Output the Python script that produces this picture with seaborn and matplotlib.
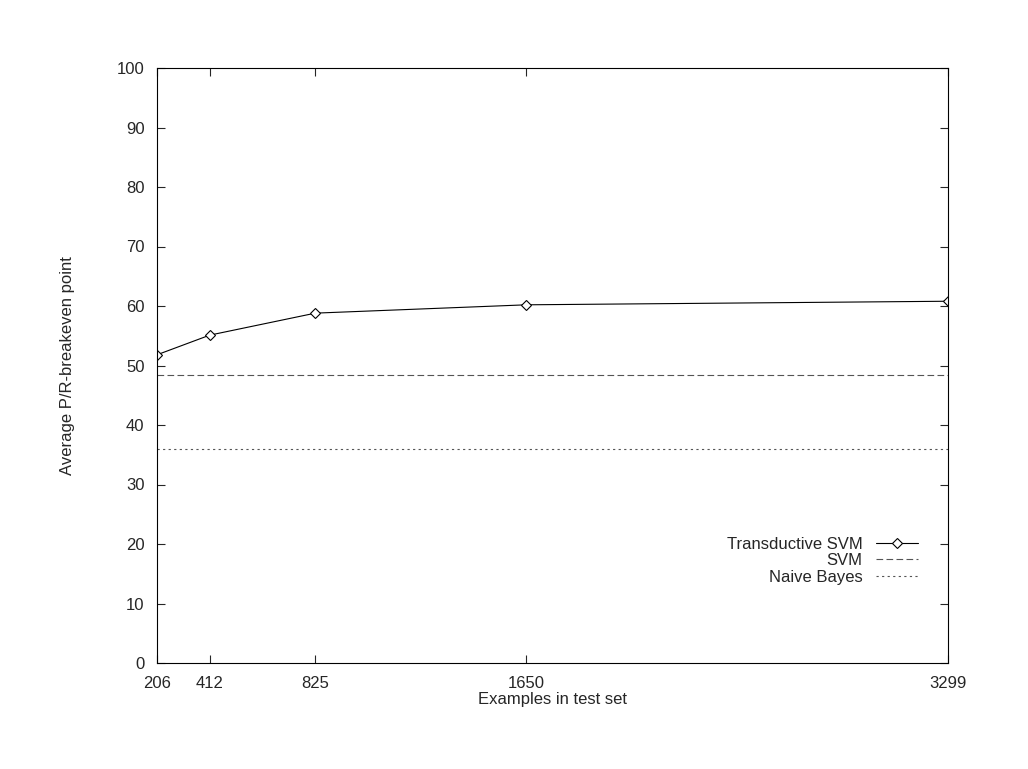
import matplotlib
matplotlib.use("Agg")
import matplotlib.pyplot as plt
import seaborn as sns
import pandas as pd

# values
examples = [206, 412, 825, 1650, 3299]
tsvm = [51.8, 55.1, 58.8, 60.2, 60.8]
svm_level = 48.4
nb_level = 35.9

sns.set_style("ticks")
plt.rcParams["font.family"] = ["Liberation Sans", "DejaVu Sans"]

fig = plt.figure(figsize=(10.28, 7.69), dpi=100)
ax = fig.add_axes([157 / 1028, 1 - 663 / 769, (948 - 157) / 1028, (663 - 68) / 769])

df = pd.DataFrame({"examples": examples, "tsvm": tsvm})
sns.lineplot(data=df, x="examples", y="tsvm", ax=ax, color="black", lw=0.8,
             marker="D", markersize=5, markerfacecolor="white",
             markeredgecolor="black", markeredgewidth=0.8,
             label="Transductive SVM")
ax.axhline(svm_level, color="#555555", lw=0.8, ls=(0, (6, 3)), label="SVM")
ax.axhline(nb_level, color="#555555", lw=0.8, ls=(0, (2, 3)), label="Naive Bayes")

ax.set_xlim(examples[0], examples[-1])
ax.set_ylim(0, 100)
ax.set_xticks(examples)
ax.set_yticks(range(0, 101, 10))
ax.tick_params(direction="in", top=True, right=True, length=6, labelsize=12)
ax.tick_params(axis="x", pad=9)
ax.tick_params(axis="y", pad=9)
for s in ax.spines.values():
    s.set_linewidth(0.8)
    s.set_color("black")

ax.set_xlabel("Examples in test set", fontsize=12, labelpad=1)
ax.set_ylabel("Average P/R-breakeven point", fontsize=12, labelpad=30)

ax.legend(loc="lower right", bbox_to_anchor=(0.97, 0.12), frameon=False,
          markerfirst=False, fontsize=12, handlelength=2.5,
          labelspacing=0.1, borderaxespad=0)
for t in ax.get_legend().get_texts():
    t.set_ha("right")

fig.savefig("out.png", dpi=100)
